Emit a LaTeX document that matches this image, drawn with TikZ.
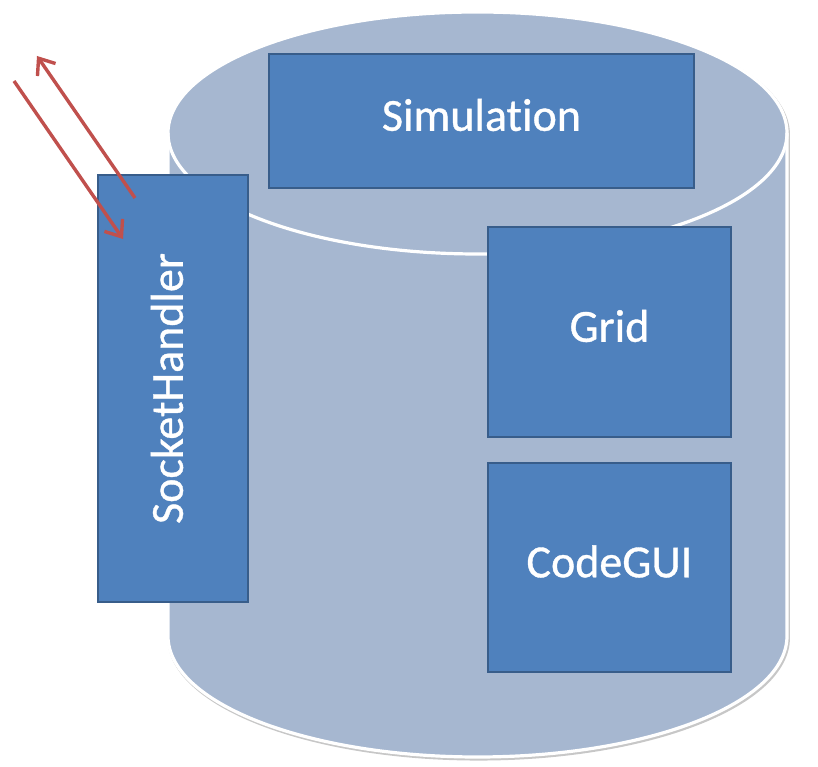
\documentclass[tikz,border=0pt]{standalone}
\usepackage{fontspec}
\setmainfont{Carlito}[Ligatures=NoCommon, FakeBold=0.8]
\usetikzlibrary{arrows.meta}
\definecolor{boxfill}{HTML}{4F81BD}
\definecolor{boxline}{HTML}{385D8A}
\definecolor{drumfill}{HTML}{A6B7D0}
\definecolor{linkred}{HTML}{C0504D}
\def\drumbody{(168, 634) -- (168, 131) arc[start angle=180, end angle=360, x radius=309.5, y radius=121] -- (787, 634) arc[start angle=0, end angle=180, x radius=309.5, y radius=121] -- cycle}

\begin{document}
\begin{tikzpicture}[x=1pt, y=1pt,
		block/.style={draw=boxline, fill=boxfill, line width=2.2pt, text=white,
			font=\fontsize{46}{54}\selectfont, text height=32pt, text depth=12.4pt, inner sep=0pt},
		link/.style={draw=linkred, line width=3.4pt, -{Straight Barb[length=14pt, width=22pt]}}]
			%%%%% START %%%%%
			
			\useasboundingbox (0, 0) rectangle (818, 767);
			
			\draw[line width=3.5pt, color=black!22, xshift=1.2pt, yshift=-1.8pt] \drumbody;
			\draw[line width=3.2pt, color=white, fill=drumfill] \drumbody;
			\draw[line width=3.2pt, color=white] (168, 634) arc[start angle=180, end angle=360, x radius=309.5, y radius=121];
			
			\node[block, minimum width=425pt, minimum height=134pt] (sim) at (481.5, 646) {Simulation};
			\node[block, minimum width=243pt, minimum height=210pt] (grid) at (609.5, 435) {Grid};
			\node[block, minimum width=243pt, minimum height=209pt] (gui) at (609.5, 199.5) {CodeGUI};
			\node[block, rotate=90, minimum width=427pt, minimum height=150pt] (sock) at (173, 378.5) {SocketHandler};
			
			\coordinate (outTail) at (135, 569);
			\coordinate (outHead) at (37, 711);
			\coordinate (inTail) at (14, 686);
			\coordinate (inHead) at (123, 528);
			
			\draw[link] (outTail) -- (outHead);
			\draw[link] (inTail) -- (inHead);
			
			%%%%% END %%%%%
		\end{tikzpicture}
\end{document}
